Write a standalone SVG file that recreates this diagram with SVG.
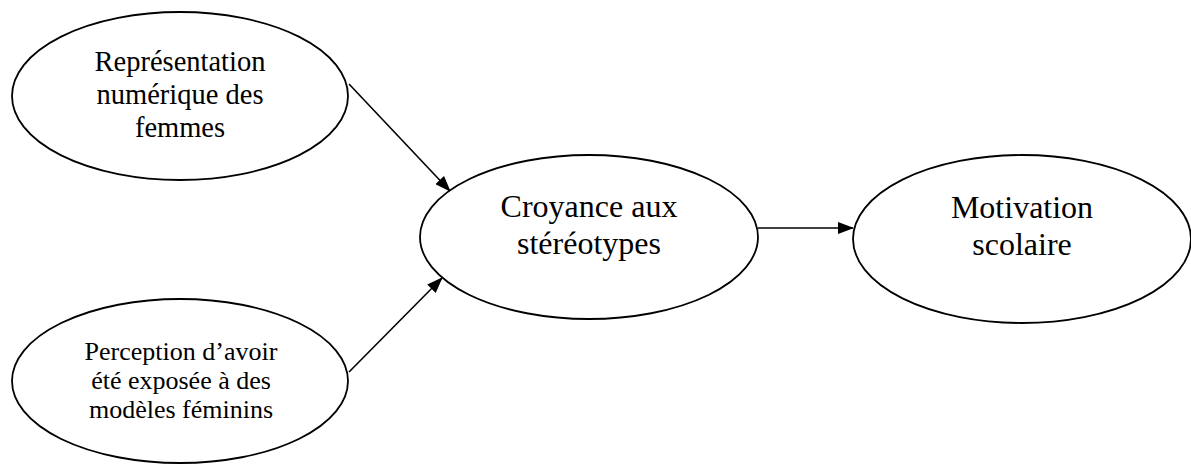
<svg xmlns="http://www.w3.org/2000/svg" width="1191" height="465" viewBox="0 0 1191 465">
<style>
.n{fill:#fff;stroke:#000;stroke-width:1.8}
.t{font-family:"Liberation Serif","Times New Roman",serif;fill:#000;text-anchor:middle}
.c{stroke:#000;stroke-width:1.6;fill:none;marker-end:url(#ah)}
</style>
<defs>
<marker id="ah" markerWidth="16" markerHeight="12" refX="15" refY="6" orient="auto" markerUnits="userSpaceOnUse">
<path d="M0,0 L16,6 L0,12 Z" fill="#000"/>
</marker>
</defs>
<rect width="1191" height="465" fill="#fff"/>
<g id="connectors">
<line class="c" x1="349" y1="84" x2="450" y2="191"/>
<line class="c" x1="349" y1="372" x2="442" y2="278"/>
<line class="c" x1="758" y1="228" x2="853" y2="228"/>
</g>
<g id="node-representation">
<ellipse class="n" cx="180" cy="96" rx="168" ry="84"/>
<text class="t" font-size="28.5" x="180" y="71">Représentation</text>
<text class="t" font-size="28.5" x="180" y="104">numérique des</text>
<text class="t" font-size="28.5" x="180" y="137">femmes</text>
</g>
<g id="node-perception">
<ellipse class="n" cx="180" cy="381" rx="168" ry="82"/>
<text class="t" font-size="26" x="181" y="360">Perception d’avoir</text>
<text class="t" font-size="26" x="181" y="389">été exposée à des</text>
<text class="t" font-size="26" x="181" y="418">modèles féminins</text>
</g>
<g id="node-croyance">
<ellipse class="n" cx="589" cy="237" rx="169" ry="82"/>
<text class="t" font-size="32" x="589" y="217">Croyance aux</text>
<text class="t" font-size="32" x="589" y="254">stéréotypes</text>
</g>
<g id="node-motivation">
<ellipse class="n" cx="1022" cy="239" rx="169" ry="84"/>
<text class="t" font-size="32" x="1022" y="218">Motivation</text>
<text class="t" font-size="32" x="1022" y="255">scolaire</text>
</g>
</svg>
